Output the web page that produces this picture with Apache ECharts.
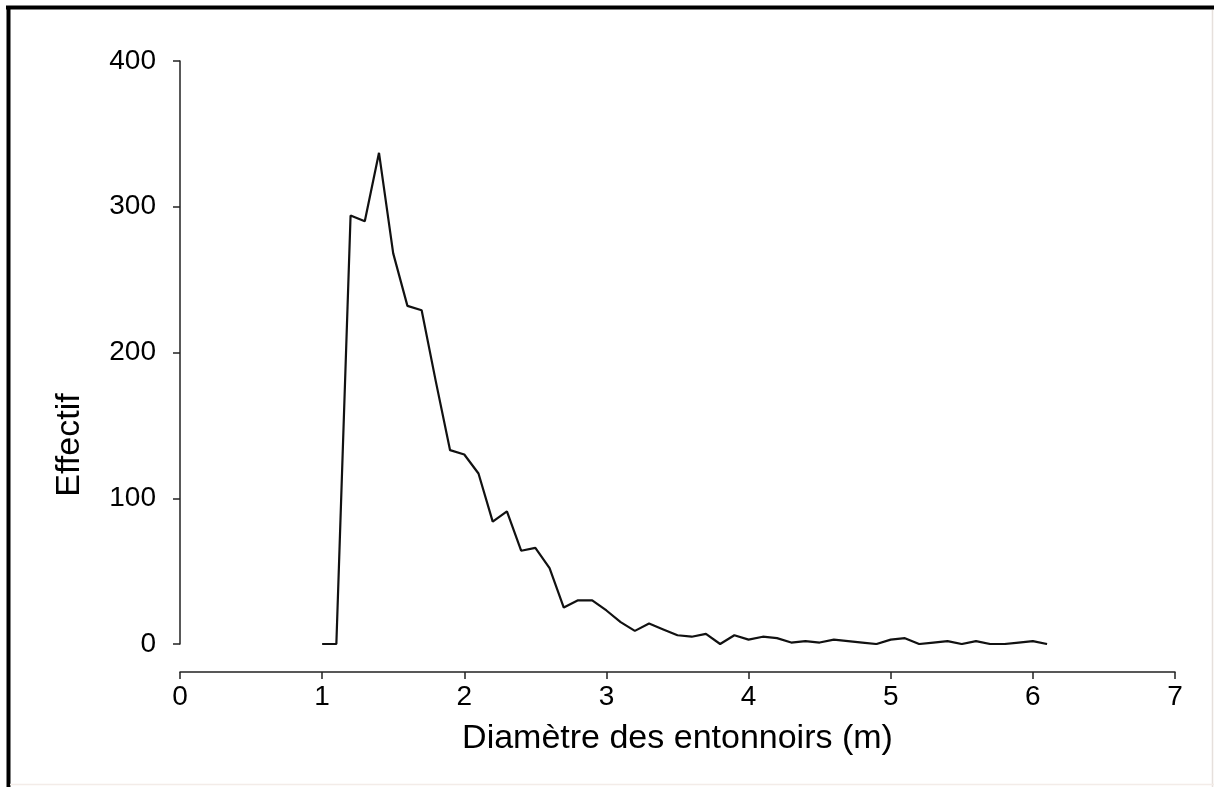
<!DOCTYPE html>
<html>
<head>
<meta charset="utf-8">
<script src="https://cdn.jsdelivr.net/npm/echarts@6/dist/echarts.min.js"></script>
<style>
html,body{margin:0;padding:0;background:#fff;}
#chart{width:1214px;height:787px;}
</style>
</head>
<body>
<div id="chart"></div>
<script>
const diameters = [1.0,1.1,1.2,1.3,1.4,1.5,1.6,1.7,1.8,1.9,2.0,2.1,2.2,2.3,2.4,2.5,2.6,2.7,2.8,2.9,3.0,3.1,3.2,3.3,3.4,3.5,3.6,3.7,3.8,3.9,4.0,4.1,4.2,4.3,4.4,4.5,4.6,4.7,4.8,4.9,5.0,5.1,5.2,5.3,5.4,5.5,5.6,5.7,5.8,5.9,6.0,6.1];
const counts = [0,0,294,290,337,268,232,229,180,133,130,117,84,91,64,66,52,25,30,30,23,15,9,14,10,6,5,7,0,6,3,5,4,1,2,1,3,2,1,0,3,4,0,1,2,0,2,0,0,1,2,0];
const xTicks = [0,1,2,3,4,5,6,7];
const yTicks = [0,100,200,300,400];
const xTitle = 'Diamètre des entonnoirs (m)';
const yTitle = 'Effectif';

const chart = echarts.init(document.getElementById('chart'), null, {renderer:'canvas'});
const font = '"Liberation Sans", Arial, sans-serif';
const axisCol = '#222';
chart.setOption({
  animation:false,
  backgroundColor:'#fff',
  grid:{left:180, right:39, top:61, bottom:143, containLabel:false},
  graphic:[
    {type:'line', shape:{x1:6,y1:7.5,x2:1214,y2:7.5}, style:{stroke:'#000', lineWidth:4}},
    {type:'line', shape:{x1:8.5,y1:6,x2:8.5,y2:787}, style:{stroke:'#000', lineWidth:4}},
    {type:'line', shape:{x1:1212.5,y1:10,x2:1212.5,y2:787}, style:{stroke:'#e6e0dc', lineWidth:1.5}},
    {type:'line', shape:{x1:10,y1:784.5,x2:1214,y2:784.5}, style:{stroke:'#f3ece8', lineWidth:1.5}},
    {type:'text', x:70, y:445, rotation:Math.PI/2,
     style:{text:yTitle, fontFamily:font, fontSize:34, fill:'#000', align:'center', verticalAlign:'middle'}}
  ],
  xAxis:{
    type:'value', min:xTicks[0], max:xTicks[xTicks.length-1], interval:1,
    offset:28,
    name:xTitle, nameLocation:'middle', nameGap:50,
    nameTextStyle:{fontFamily:font, fontSize:34, color:'#000'},
    axisLine:{show:true, onZero:false, lineStyle:{color:axisCol, width:1.5}},
    axisTick:{show:true, length:7, lineStyle:{color:axisCol, width:1.5}},
    axisLabel:{fontFamily:font, fontSize:28, color:'#000', margin:11},
    splitLine:{show:false}
  },
  yAxis:{
    type:'value', min:yTicks[0], max:yTicks[yTicks.length-1], interval:100,
    axisLine:{show:true, lineStyle:{color:axisCol, width:1.5}},
    axisTick:{show:true, length:7, lineStyle:{color:axisCol, width:1.5}},
    axisLabel:{fontFamily:font, fontSize:28, color:'#000', margin:24},
    splitLine:{show:false}
  },
  series:[{
    type:'line',
    data:diameters.map((d,i)=>[d,counts[i]]),
    showSymbol:false,
    lineStyle:{color:'#111', width:2.2},
    itemStyle:{color:'#111'}
  }]
});
</script>
</body>
</html>
